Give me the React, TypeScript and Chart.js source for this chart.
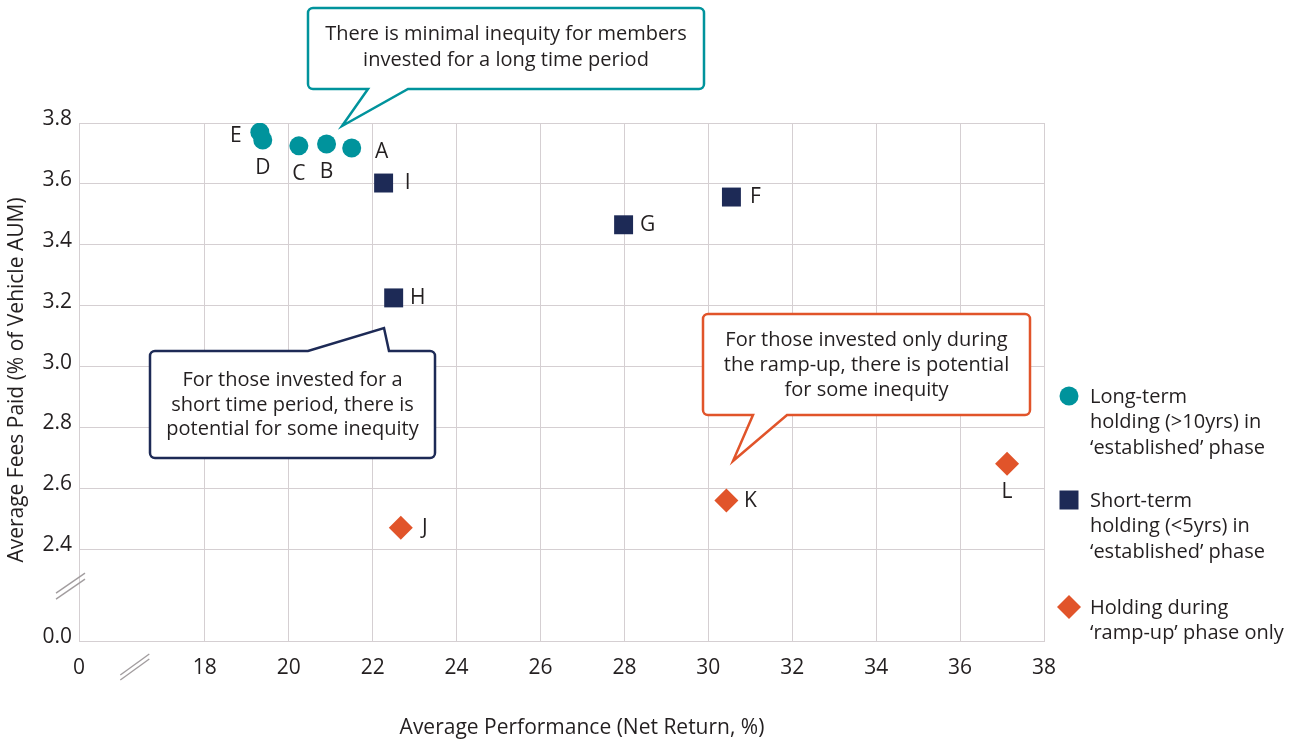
import React, { useEffect, useRef } from 'react';
import { Chart, registerables } from 'chart.js';

Chart.register(...registerables);

// ---- Data ----
const longTermNames = ['E', 'D', 'C', 'B', 'A'];
const longTermReturn = [19.31, 19.38, 20.24, 20.9, 21.5];
const longTermFees = [3.77, 3.744, 3.725, 3.731, 3.718];

const shortTermNames = ['I', 'F', 'G', 'H'];
const shortTermReturn = [22.26, 30.55, 27.98, 22.5];
const shortTermFees = [3.603, 3.557, 3.466, 3.226];

const rampNames = ['J', 'K', 'L'];
const rampReturn = [22.67, 30.43, 37.12];
const rampFees = [2.472, 2.561, 2.682];

// Axis break: the value at the axis origin is shown as "0"
const xTickValues = [15, 18, 20, 22, 24, 26, 28, 30, 32, 34, 36, 38];
const xTickLabels = ['0', '18', '20', '22', '24', '26', '28', '30', '32', '34', '36', '38'];
const yTickValues = [2.1, 2.4, 2.6, 2.8, 3.0, 3.2, 3.4, 3.6, 3.8];
const yTickLabels = ['0.0', '2.4', '2.6', '2.8', '3.0', '3.2', '3.4', '3.6', '3.8'];

const seriesLabels = [
  ['Long-term', 'holding (>10yrs) in', '\u2018established\u2019 phase'],
  ['Short-term', 'holding (<5yrs) in', '\u2018established\u2019 phase'],
  ['Holding during', '\u2018ramp-up\u2019 phase only'],
];

const xTitle = 'Average Performance (Net Return, %)';
const yTitle = 'Average Fees Paid (% of Vehicle AUM)';

const calloutTexts = [
  ['There is minimal inequity for members', 'invested for a long time period'],
  ['For those invested for a', 'short time period, there is', 'potential for some inequity'],
  ['For those invested only during', 'the ramp-up, there is potential', 'for some inequity'],
];

// ---- Styles ----
const FONT = '"Open Sans", "DejaVu Sans", sans-serif';
const TEXT = '#231F20';
const GRID = '#D5CFD2';
const TEAL = '#00939C';
const NAVY = '#1D2A56';
const ORANGE = '#E1542A';
const BREAK = '#A29D9F';

type Placement = 'left' | 'right' | 'below' | 'rightLow';
const labelPlacement: Record<string, Placement> = {
  E: 'left', D: 'below', C: 'below', B: 'below', A: 'rightLow',
  I: 'right', F: 'right', G: 'right', H: 'right',
  J: 'right', K: 'right', L: 'below',
};

function calloutPath(
  ctx: CanvasRenderingContext2D,
  x: number, y: number, w: number, h: number, r: number,
  side: 'top' | 'bottom', a: number, b: number, tx: number, ty: number,
) {
  ctx.beginPath();
  ctx.moveTo(x + r, y);
  if (side === 'top') {
    ctx.lineTo(a, y);
    ctx.lineTo(tx, ty);
    ctx.lineTo(b, y);
  }
  ctx.lineTo(x + w - r, y);
  ctx.arcTo(x + w, y, x + w, y + r, r);
  ctx.lineTo(x + w, y + h - r);
  ctx.arcTo(x + w, y + h, x + w - r, y + h, r);
  if (side === 'bottom') {
    ctx.lineTo(b, y + h);
    ctx.lineTo(tx, ty);
    ctx.lineTo(a, y + h);
  }
  ctx.lineTo(x + r, y + h);
  ctx.arcTo(x, y + h, x, y + h - r, r);
  ctx.lineTo(x, y + r);
  ctx.arcTo(x, y, x + r, y, r);
  ctx.closePath();
}

const decorPlugin = {
  id: 'decor',
  afterDraw(chart: any) {
    const ctx: CanvasRenderingContext2D = chart.ctx;
    const xs = chart.scales.x;
    const ys = chart.scales.y;
    const area = chart.chartArea;
    ctx.save();

    // Axis break marks
    ctx.strokeStyle = BREAK;
    ctx.lineWidth = 1.4;
    const yb = ys.getPixelForValue(2.28);
    for (const off of [-3, 3]) {
      ctx.beginPath();
      ctx.moveTo(area.left - 23, yb + off + 10);
      ctx.lineTo(area.left + 6, yb + off - 10);
      ctx.stroke();
    }
    const xb = xs.getPixelForValue(16.33);
    const ybx = area.bottom + 26;
    for (const off of [-2.5, 2.5]) {
      ctx.beginPath();
      ctx.moveTo(xb - 14.5, ybx + off + 10.5);
      ctx.lineTo(xb + 14.5, ybx + off - 10.5);
      ctx.stroke();
    }

    // Point labels
    ctx.font = `21px ${FONT}`;
    ctx.fillStyle = TEXT;
    ctx.textAlign = 'center';
    ctx.textBaseline = 'middle';
    const names = [longTermNames, shortTermNames, rampNames];
    names.forEach((arr, di) => {
      const meta = chart.getDatasetMeta(di);
      arr.forEach((n, j) => {
        const el = meta.data[j];
        const p = labelPlacement[n];
        let dx = 0, dy = 0;
        if (p === 'left') { dx = -24; dy = 4; }
        else if (p === 'right') { dx = 24; dy = 0; }
        else if (p === 'rightLow') { dx = 30; dy = 4; }
        else { dx = 0; dy = 28; }
        ctx.fillText(n, el.x + dx, el.y + dy);
      });
    });

    // Callouts
    const callouts = [
      { x: 308, y: 8, w: 396, h: 81, side: 'bottom' as const, a: 368, b: 408, tx: 342, ty: 126, color: TEAL, lines: calloutTexts[0], ly: [34, 60] },
      { x: 150, y: 351, w: 285, h: 107, side: 'top' as const, a: 308, b: 389, tx: 384, ty: 328, color: NAVY, lines: calloutTexts[1], ly: [380, 405, 429] },
      { x: 703, y: 314, w: 327, h: 101, side: 'bottom' as const, a: 753, b: 787, tx: 733, ty: 461, color: ORANGE, lines: calloutTexts[2], ly: [340, 365, 390] },
    ];
    for (const c of callouts) {
      calloutPath(ctx, c.x, c.y, c.w, c.h, 5, c.side, c.a, c.b, c.tx, c.ty);
      ctx.fillStyle = '#ffffff';
      ctx.fill();
      ctx.strokeStyle = c.color;
      ctx.lineWidth = 2.5;
      ctx.lineJoin = 'miter';
      ctx.stroke();
      ctx.fillStyle = TEXT;
      ctx.font = `20px ${FONT}`;
      ctx.textAlign = 'center';
      ctx.textBaseline = 'middle';
      c.lines.forEach((t, i) => ctx.fillText(t, c.x + c.w / 2, c.ly[i]));
    }

    // Legend
    const lx = 1069;
    const tx = 1090;
    const legendTop = [396, 500, 607];
    const colors = [TEAL, NAVY, ORANGE];
    legendTop.forEach((cy, i) => {
      ctx.fillStyle = colors[i];
      ctx.beginPath();
      if (i === 0) {
        ctx.arc(lx, cy, 9.5, 0, Math.PI * 2);
      } else if (i === 1) {
        ctx.rect(lx - 9.5, cy - 9.5, 19, 19);
      } else {
        ctx.moveTo(lx - 12, cy);
        ctx.lineTo(lx, cy - 12);
        ctx.lineTo(lx + 12, cy);
        ctx.lineTo(lx, cy + 12);
        ctx.closePath();
      }
      ctx.fill();
      ctx.fillStyle = TEXT;
      ctx.font = `20px ${FONT}`;
      ctx.textAlign = 'left';
      ctx.textBaseline = 'middle';
      seriesLabels[i].forEach((t, k) => ctx.fillText(t, tx, cy + 1 + k * 25.7));
    });

    // Axis titles
    ctx.fillStyle = TEXT;
    ctx.font = `21px ${FONT}`;
    ctx.textAlign = 'center';
    ctx.textBaseline = 'middle';
    ctx.fillText(xTitle, 582, 728);
    ctx.save();
    ctx.translate(17, (area.top + area.bottom) / 2 - 2);
    ctx.rotate(-Math.PI / 2);
    ctx.fillText(yTitle, 0, 0);
    ctx.restore();

    ctx.restore();
  },
};

export default function App() {
  const canvasRef = useRef<HTMLCanvasElement | null>(null);

  useEffect(() => {
    if (!canvasRef.current) return;
    const chart = new Chart(canvasRef.current, {
      type: 'scatter',
      data: {
        datasets: [
          {
            label: seriesLabels[0].join(' '),
            data: longTermReturn.map((x, i) => ({ x, y: longTermFees[i] })),
            pointStyle: 'circle',
            pointRadius: 9.5,
            pointHoverRadius: 9.5,
            backgroundColor: TEAL,
            borderColor: TEAL,
            borderWidth: 0,
          },
          {
            label: seriesLabels[1].join(' '),
            data: shortTermReturn.map((x, i) => ({ x, y: shortTermFees[i] })),
            pointStyle: 'rect',
            pointRadius: 13.4,
            pointHoverRadius: 13.4,
            backgroundColor: NAVY,
            borderColor: NAVY,
            borderWidth: 0,
          },
          {
            label: seriesLabels[2].join(' '),
            data: rampReturn.map((x, i) => ({ x, y: rampFees[i] })),
            pointStyle: 'rectRot',
            pointRadius: 12,
            pointHoverRadius: 12,
            backgroundColor: ORANGE,
            borderColor: ORANGE,
            borderWidth: 0,
          },
        ],
      },
      options: {
        animation: false,
        responsive: true,
        maintainAspectRatio: false,
        layout: { padding: { left: 0, top: 123, right: 251, bottom: 0 } },
        plugins: {
          legend: { display: false },
          tooltip: { enabled: false },
        },
        scales: {
          x: {
            type: 'linear',
            min: 15,
            max: 38,
            afterBuildTicks: (s: any) => {
              s.ticks = xTickValues.map((v) => ({ value: v }));
            },
            afterFit: (s: any) => {
              s.height = 101;
            },
            ticks: {
              autoSkip: false,
              maxRotation: 0,
              padding: 14,
              color: TEXT,
              font: { family: FONT, size: 21 },
              callback: (v: any) => {
                const i = xTickValues.indexOf(Number(v));
                return i >= 0 ? xTickLabels[i] : '';
              },
            },
            grid: { color: GRID, drawTicks: false, lineWidth: 1 },
            border: { color: GRID, width: 1 },
          },
          y: {
            type: 'linear',
            min: 2.1,
            max: 3.8,
            afterBuildTicks: (s: any) => {
              s.ticks = yTickValues.map((v) => ({ value: v }));
            },
            afterFit: (s: any) => {
              s.width = 79;
            },
            ticks: {
              autoSkip: false,
              padding: 7,
              color: TEXT,
              font: { family: FONT, size: 21, lineHeight: 0.4 },
              callback: (v: any) => {
                const i = yTickValues.findIndex((t) => Math.abs(t - Number(v)) < 1e-6);
                return i >= 0 ? [yTickLabels[i], ''] : '';
              },
            },
            grid: { color: GRID, drawTicks: false, lineWidth: 1 },
            border: { color: GRID, width: 1 },
          },
        },
      },
      plugins: [decorPlugin],
    });
    return () => chart.destroy();
  }, []);

  return (
    <div style={{ position: 'absolute', left: 0, top: 0, width: 1295, height: 742, background: '#ffffff' }}>
      <canvas ref={canvasRef} />
    </div>
  );
}
